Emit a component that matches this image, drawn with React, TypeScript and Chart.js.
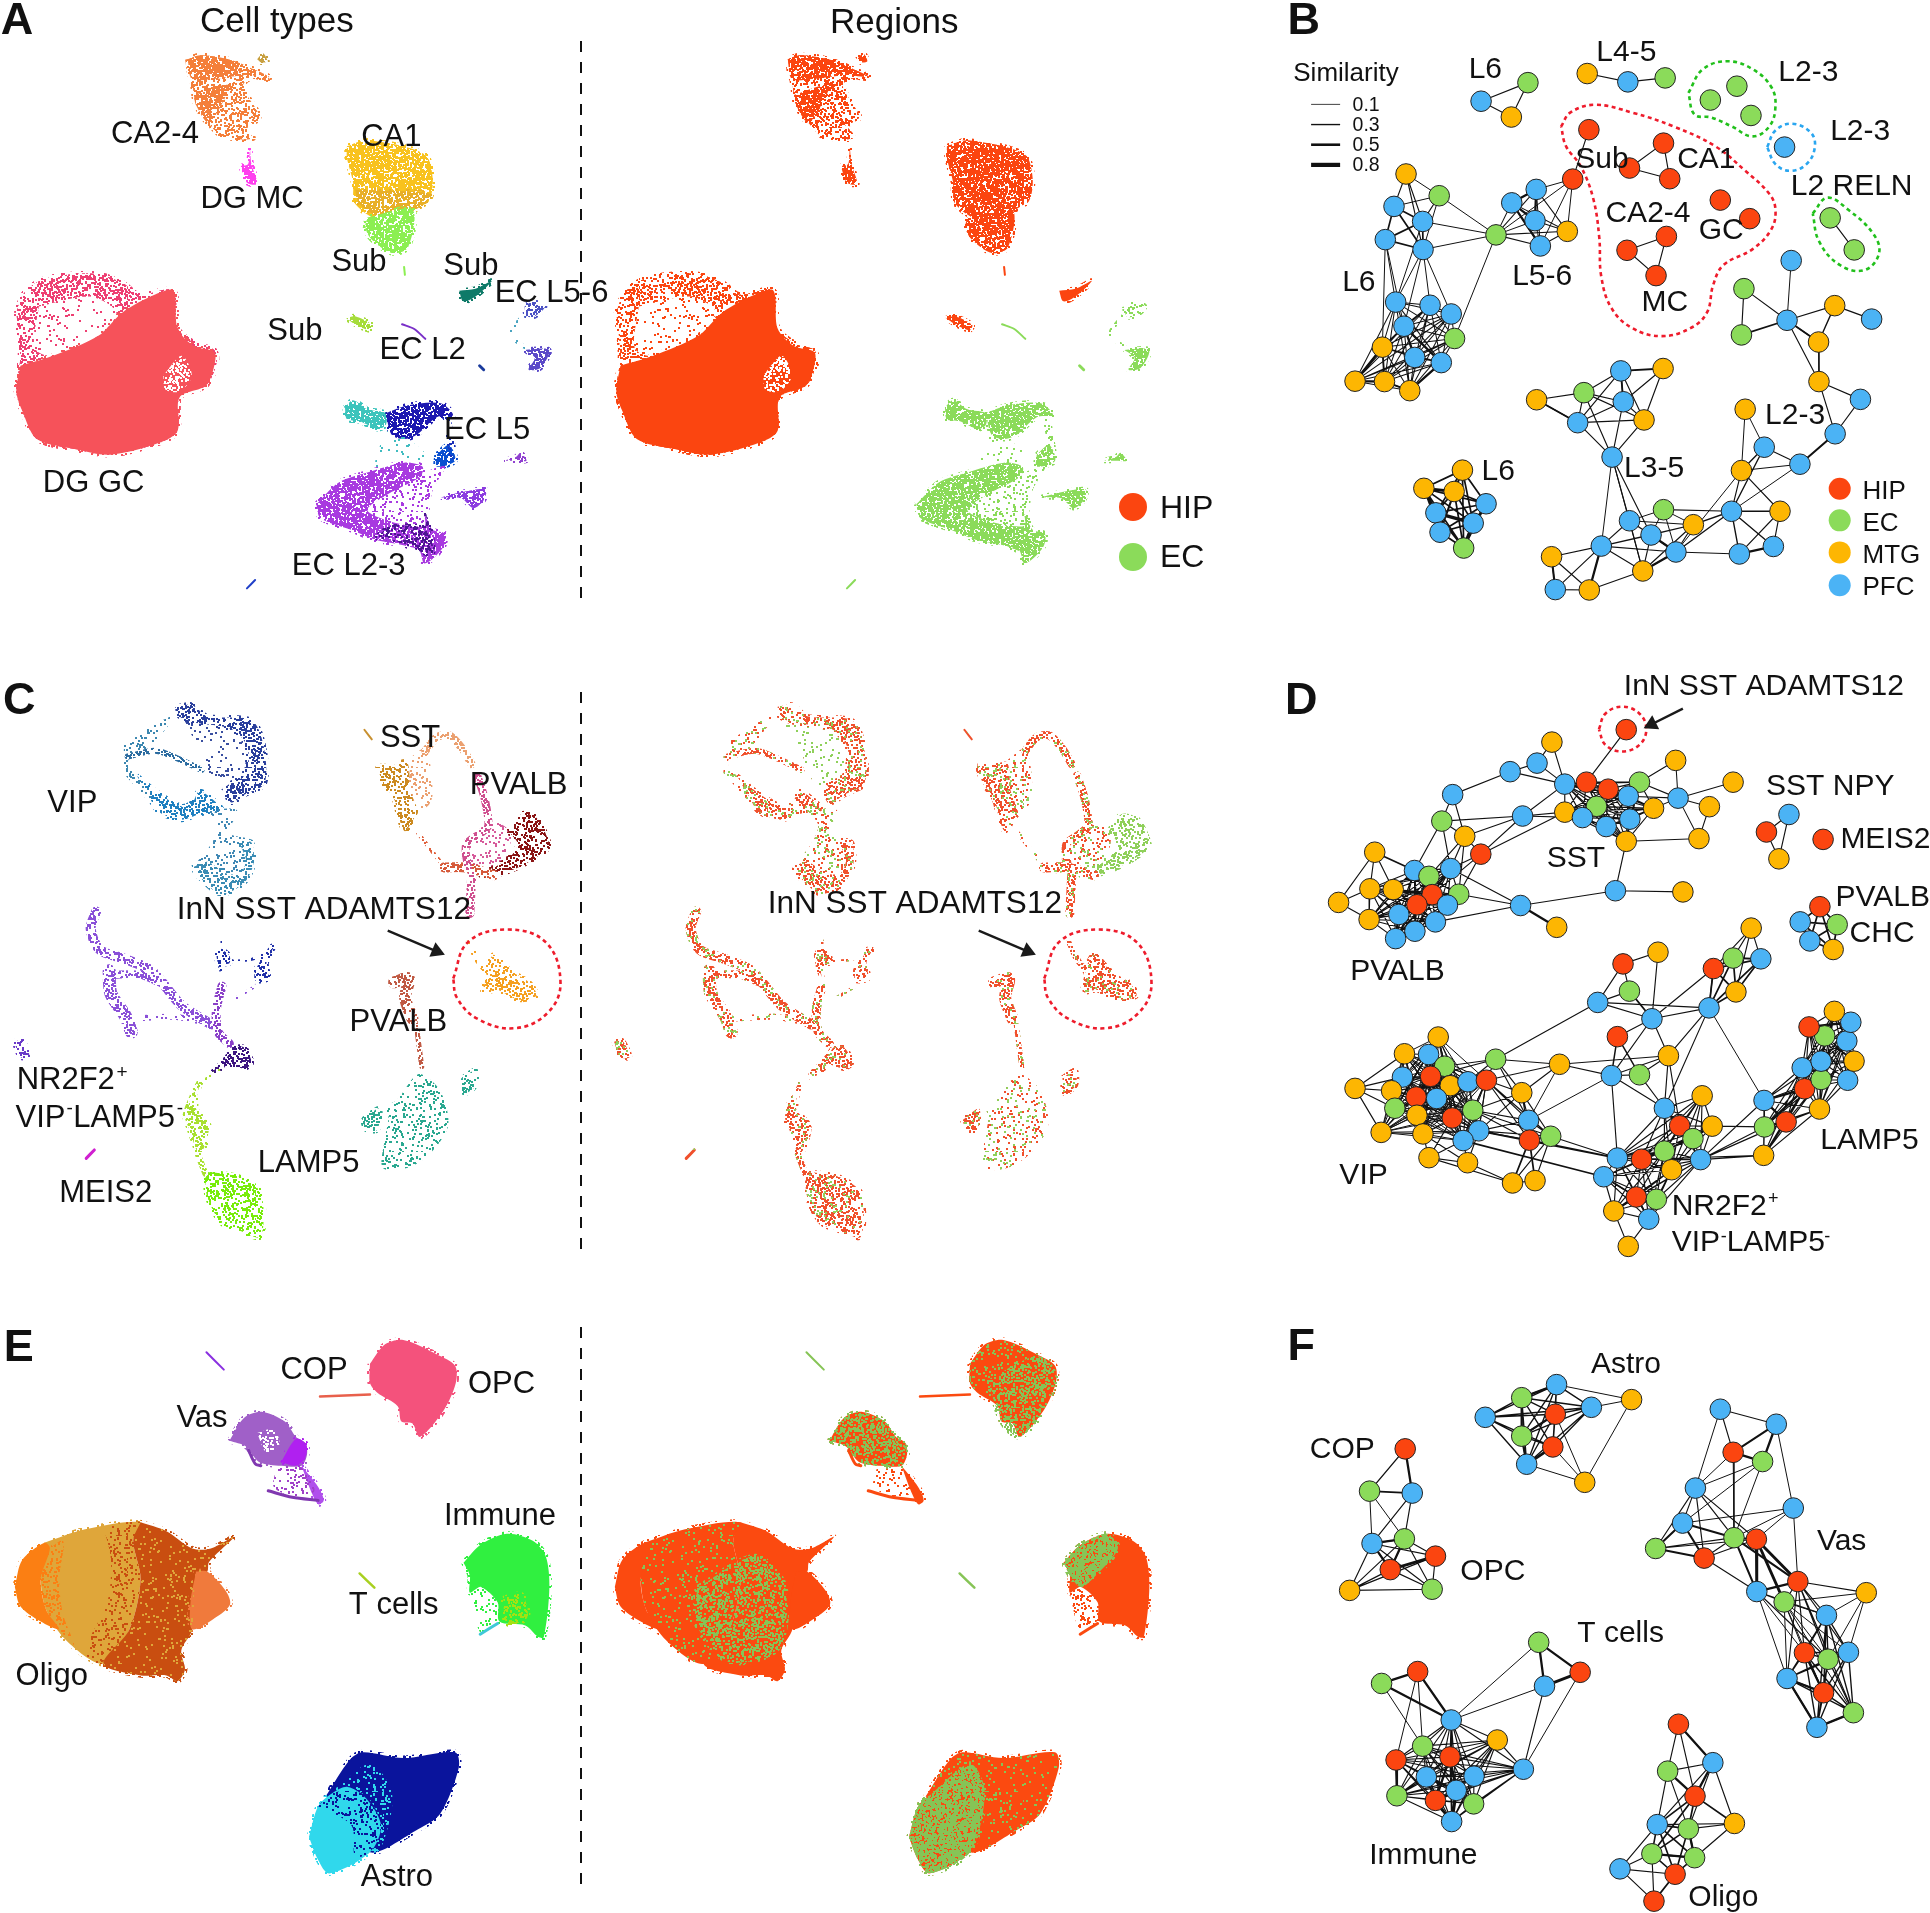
import React, { useEffect, useRef } from "react";
import { Chart, registerables } from "chart.js";
Chart.register(...registerables);

// ---- crops of the reference in which the values below were read: origin and magnification
type Crop = { ox: number; oy: number; kx: number; ky: number };
const cropA: Crop = { ox: 0, oy: 0, kx: 2.45, ky: 2.529 };
const cropB: Crop = { ox: 1280, oy: 0, kx: 2.412, ky: 2.529 };
const cropD: Crop = { ox: 1300, oy: 660, kx: 2.489, ky: 2.57 };
const cropF: Crop = { ox: 1280, oy: 1310, kx: 2.412, ky: 2.6 };
const cropC: Crop = { ox: 0, oy: 680, kx: 2.703, ky: 2.613 };
const cropE: Crop = { ox: 0, oy: 1310, kx: 2.703, ky: 2.6 };
const cropFull: Crop = { ox: 0, oy: 0, kx: 1, ky: 1 };
const REGION_SHIFT = 600;

const REGION_COLORS: Record<string, string> = { H: "#fb4510", E: "#8bdb5a", M: "#fdb602", P: "#4bb3f5" };

// ---- panel A, cell-type clusters (outlines, flat x,y lists)
const dgGcAll = [40,790, 60,740, 110,705, 230,692, 300,715, 340,745, 425,735, 435,830, 480,870, 525,885, 530,920, 505,975, 440,1005, 435,1090, 390,1120, 270,1150, 180,1135, 90,1110, 55,1040, 40,990, 50,900, 40,790];
const dgGcHole = [95,775, 220,750, 285,790, 240,850, 130,900, 85,880, 95,775];
const dgGcMain = [50,925, 130,900, 240,850, 300,790, 380,745, 425,735, 435,830, 475,875, 525,890, 525,925, 505,975, 440,1005, 435,1090, 390,1120, 270,1150, 180,1135, 90,1110, 55,1040, 40,990, 50,925];
const dgGcHole2 = [400,950, 445,900, 470,950, 440,990, 405,985, 400,950];
const ca24 = [460,150, 490,140, 560,150, 610,170, 660,195, 655,205, 610,200, 595,220, 635,290, 630,305, 600,320, 620,350, 545,345, 510,310, 480,265, 470,200, 460,150];
const ca24Band = [460,150, 490,140, 560,150, 610,170, 660,195, 600,190, 520,200, 470,200, 460,150];
const ca24Low = [475,240, 560,215, 540,270, 510,310, 480,265, 475,240];
const caTan = [630,150, 645,135, 655,155, 640,158, 630,150];
const dgMc = [590,420, 608,415, 612,375, 616,415, 630,465, 605,462, 590,420];
const ca1Top = [850,370, 900,355, 1040,390, 1060,450, 1050,510, 1010,525, 940,560, 870,515, 865,460, 850,400, 850,370];
const ca1Low = [870,480, 1055,490, 1040,515, 960,560, 930,550, 880,515, 870,480];
const subA = [900,550, 1010,530, 1000,625, 960,640, 910,605, 895,575, 900,550];
const subTail = [990,675, 992,695];
const subTeal = [1125,735, 1165,730, 1205,710, 1165,750, 1135,762, 1125,735];
const ecTop = [1285,775, 1305,763, 1335,775, 1310,800, 1290,800, 1285,775];
const ecLink = [1280,800, 1250,845, 1295,885];
const ecLow = [1285,885, 1345,885, 1325,930, 1295,935, 1310,905, 1285,885];
const ecDot = [1175,925, 1185,935];
const subLime = [848,805, 870,800, 912,822, 905,835, 870,820, 848,805];
const ecL2 = [985,820, 1015,832, 1042,857];
const tealC = [845,1030, 865,1012, 900,1035, 945,1045, 945,1075, 925,1085, 880,1065, 850,1060, 845,1030];
const blueArc = [945,1045, 1000,1025, 1080,1020, 1110,1050, 1070,1055, 1020,1100, 990,1110, 960,1100, 945,1045];
const blueLink = [1095,1060, 1110,1150];
const blueLow = [1070,1150, 1100,1125, 1115,1165, 1070,1180, 1070,1150];
const ecL23Main = [775,1275, 830,1220, 900,1195, 990,1170, 1035,1180, 1030,1205, 950,1250, 900,1290, 960,1320, 1040,1330, 1040,1300, 1060,1340, 1090,1350, 1085,1385, 1040,1425, 1025,1390, 920,1365, 860,1340, 785,1310, 775,1275];
const ecL23Dark = [920,1360, 960,1330, 1040,1330, 1045,1300, 1055,1345, 1060,1400, 1030,1395, 950,1360, 920,1360];
const ecL23Sparse = [950,1250, 1030,1200, 1090,1180, 1060,1240, 1040,1330, 960,1320, 900,1290, 950,1250];
const ecScatter = [920,1160, 950,1090, 1000,1110, 1060,1170, 990,1170, 920,1190, 920,1160];
const ecRight = [1080,1258, 1130,1245, 1190,1238, 1185,1265, 1160,1285, 1130,1260, 1080,1258];
const ecSmall = [1235,1165, 1265,1155, 1275,1145, 1290,1165, 1265,1165, 1235,1165];
const ecLine = [605,1488, 625,1467];

// ---- panel C
const vipDark = [480,70, 520,65, 560,95, 680,105, 712,170, 715,270, 660,300, 625,320, 610,280, 660,250, 670,180, 630,130, 520,110, 485,95, 480,70];
const vipInner = [485,95, 630,130, 670,200, 640,300, 580,270, 540,180, 485,95];
const vipLeft = [335,170, 420,115, 470,95, 430,150, 400,180, 350,200, 345,240, 335,240, 335,170];
const vipRidge = [345,200, 420,185, 480,205, 545,235];
const vipLow = [370,250, 420,290, 490,330, 520,320, 540,290, 600,340, 540,350, 490,365, 430,345, 400,300, 370,250];
const vipRing = [345,240, 400,300];
const vipNeck = [560,340, 640,340, 620,400, 680,420, 685,480, 660,530, 600,560, 560,540, 520,500, 570,430, 590,380, 560,340];
const vipBottom = [520,490, 560,475, 610,505, 650,505, 665,470, 650,425, 680,425, 685,480, 660,530, 600,560, 560,535, 520,490];
const sstTick = [985,130, 1005,155];
const sstLeft = [1020,225, 1055,225, 1100,215, 1110,290, 1130,345, 1120,360, 1095,395, 1080,365, 1065,310, 1035,270, 1020,225];
const sstLight = [1100,210, 1150,180, 1170,290, 1160,325, 1130,340, 1110,290, 1100,210];
const sstTop = [1150,185, 1180,150, 1215,145, 1250,180, 1275,220];
const sstCurve = [1130,400, 1170,450, 1210,495, 1240,500];
const redCross = [1200,490, 1260,490, 1335,510];
const pinkUp = [1290,250, 1310,310, 1320,380, 1300,400, 1260,430, 1265,490];
const pinkArea = [1260,420, 1330,370, 1380,400, 1360,480, 1300,510, 1250,480, 1260,420];
const pinkDown = [1275,510, 1270,610];
const pvDark = [1375,395, 1410,350, 1450,360, 1485,430, 1470,450, 1400,490, 1340,510, 1300,510, 1370,470, 1400,430, 1375,395];
const innOrange = [1265,680, 1280,710, 1310,750, 1335,718, 1380,760, 1430,790, 1450,825, 1400,835, 1345,810, 1305,815, 1315,770, 1285,725, 1265,680];
const purpleA = [260,605, 245,650, 270,705, 340,730, 410,760, 490,850, 570,900];
const purpleB = [295,760, 300,820, 340,880, 355,920];
const purpleC = [300,770, 380,770, 430,790];
const purpleD = [350,885, 470,880, 530,890];
const blueTopA = [595,700, 620,720, 620,740, 590,745, 600,775, 585,720, 595,700];
const blueTopB = [725,700, 740,695, 720,740, 725,780, 690,785, 690,760, 725,700];
const blueThinA = [620,735, 680,730, 720,710];
const blueThinB = [600,680, 600,770];
const centerPurple = [600,800, 585,860, 590,920, 620,950];
const centerThin = [690,800, 640,830];
const darkPurple = [630,960, 660,960, 680,1000, 660,1015, 615,1005, 600,1020, 570,1030, 610,990, 630,960];
const limeArea = [520,1085, 540,1050, 530,1120, 565,1165, 540,1240, 510,1170, 500,1140, 520,1085];
const limeLink = [590,1020, 535,1060];
const limeLow = [535,1240, 555,1290];
const greenLow = [555,1285, 600,1290, 650,1300, 705,1340, 705,1455, 650,1440, 600,1420, 560,1350, 555,1285];
const nrSmall = [38,945, 60,942, 80,985, 55,985, 38,945];
const meis = [233,1250, 255,1228];
const brownTop = [1065,790, 1105,780, 1095,830, 1115,885];
const brownLow = [1125,900, 1140,1010];
const lampMain = [1035,1110, 1070,1100, 1130,1030, 1180,1060, 1205,1110, 1210,1170, 1160,1240, 1100,1275, 1035,1275, 1040,1200, 1050,1140, 1035,1110];
const lampLeft = [980,1150, 1025,1120, 1020,1175, 990,1175, 980,1150];
const lampRight = [1250,1040, 1285,1020, 1285,1060, 1255,1080, 1250,1040];

// ---- panel E
const vasTick = [558,110, 605,155];
const opc = [1000,140, 1040,90, 1090,78, 1180,115, 1230,145, 1232,190, 1200,260, 1135,330, 1115,295, 1085,290, 1075,250, 1020,215, 1000,190, 1000,140];
const opcGreen = [1050,180, 1180,120, 1232,160, 1200,260, 1135,330, 1085,290, 1050,180];
const opcTail = [865,225, 1000,220];
const vasUpper = [620,340, 660,280, 710,265, 770,290, 800,330, 825,345, 830,375, 815,405, 760,405, 700,395, 665,355, 620,340];
const vasHole = [695,320, 740,310, 755,350, 720,370, 695,320];
const vasRight = [760,395, 800,335, 828,350, 825,385, 800,405, 760,395];
const vasLower = [815,405, 860,460, 875,495, 860,505, 840,470, 815,405];
const vasSpots = [750,405, 815,410, 850,470, 800,485, 740,460, 750,405];
const vasBottom = [725,470, 790,487, 860,495];
const vasSide = [672,365, 690,400, 705,405];
const oligoOrange = [40,720, 60,650, 120,605, 135,620, 110,700, 125,780, 160,830, 110,810, 55,770, 40,720];
const oligoTan = [120,605, 230,570, 380,552, 360,600, 380,700, 350,830, 280,920, 180,860, 125,780, 110,700, 120,605];
const oligoDark = [380,552, 450,575, 520,620, 570,620, 632,590, 565,655, 560,680, 530,690, 520,830, 490,885, 500,935, 480,965, 450,950, 380,950, 280,920, 350,830, 380,700, 360,600, 380,552];
const oligoLight = [530,680, 560,680, 610,730, 622,765, 590,795, 520,830, 515,760, 530,680];
const oligoMix = [280,562, 380,552, 360,600, 380,700, 350,830, 280,920, 230,890, 290,760, 300,650, 280,562];
const oligoEdge = [110,640, 170,600, 160,700, 170,790, 200,870, 160,830, 125,780, 110,700, 110,640];
const immune = [1253,657, 1300,610, 1370,582, 1440,600, 1475,640, 1485,720, 1470,850, 1455,850, 1420,820, 1350,810, 1345,760, 1300,720, 1270,735, 1270,690, 1253,657];
const immuneSparse = [1270,735, 1300,720, 1345,760, 1345,805, 1300,840, 1270,735];
const immuneYellow = [1360,750, 1410,740, 1425,800, 1370,815, 1360,750];
const immuneCyan = [1298,843, 1345,815];
const tCells = [972,685, 1012,722];
const astroDark = [880,1265, 945,1170, 980,1150, 1090,1165, 1230,1150, 1240,1190, 1190,1310, 1130,1350, 1000,1410, 960,1300, 880,1265];
const astroCyan = [835,1370, 860,1290, 900,1255, 940,1240, 990,1270, 1030,1340, 1000,1410, 890,1465, 860,1430, 835,1370];
const astroMix = [900,1255, 1000,1180, 1060,1260, 1030,1400, 1000,1410, 960,1300, 900,1255];
const astroMixDark = [860,1290, 900,1255, 985,1260, 1030,1340, 1000,1410, 960,1420, 950,1340, 860,1290];
const astroGreen = [835,1370, 860,1290, 900,1255, 1000,1180, 1040,1250, 1000,1410, 890,1465, 860,1430, 835,1370];
const oligoGreen = [262,722, 420,640, 500,720, 480,880, 350,915, 262,820, 262,722];
const immuneGreen = [1253,657, 1300,610, 1370,582, 1400,620, 1340,690, 1300,720, 1270,690, 1253,657];

// ---- dotted and dashed guides
const redLoopB = [678,320, 700,285, 760,265, 850,285, 950,320, 1050,370, 1120,430, 1180,490, 1195,530, 1185,580, 1140,630, 1070,670, 1045,720, 1030,790, 990,830, 920,850, 850,830, 800,780, 775,700, 770,600, 755,500, 725,420, 690,370, 678,320];
const greenLoopB1 = [985,235, 1020,175, 1080,155, 1140,175, 1185,220, 1195,270, 1180,320, 1140,345, 1090,320, 1040,297, 1000,290, 985,235];
const blueLoopB = [1175,372, 1195,330, 1235,313, 1280,335, 1290,372, 1270,415, 1230,432, 1195,415, 1175,372];
const greenLoopB2 = [1285,540, 1320,500, 1370,530, 1430,590, 1445,640, 1410,683, 1350,670, 1300,610, 1285,540];
const redRingD = [744,178, 760,138, 802,120, 845,138, 862,178, 845,218, 802,235, 760,218, 744,178];
const redRingC = [1225,780, 1265,685, 1370,652, 1475,685, 1515,790, 1480,870, 1390,910, 1290,885, 1235,830, 1225,780];
const arrowC = [1048,655, 1195,715];
const arrowD = [953,125, 862,172];
const dashA = [581, 41, 581, 602];
const dashC = [581, 692, 581, 1253];
const dashE = [581, 1327, 581, 1888];

// ---- network nodes, panel B
type N = [string, number, number];
const bSmall1: N[] = [["P",485,256],["E",598,209],["M",558,296]];
const bSmall2: N[] = [["M",741,186],["P",839,207],["E",929,197]];
const bSingles: N[] = [["E",1038,253],["E",1102,218],["E",1136,292],["P",1217,372],["H",1062,506],["H",1133,553]];
const bReln: N[] = [["E",1327,551],["E",1385,632]];
const bSub: N[] = [["H",745,328],["H",706,453]];
const bCa1: N[] = [["H",925,362],["H",843,425],["H",940,452]];
const bCa2: N[] = [["H",932,598],["H",837,633],["H",907,697]];
const bL6: N[] = [["M",304,440],["E",384,495],["P",275,522],["P",344,560],["P",254,606],["P",345,631],["P",279,764],["P",362,772],["P",413,794],["P",299,825],["E",421,856],["M",247,878],["P",325,904],["P",389,917],["M",181,964],["M",252,965],["M",313,988]];
const bL56: N[] = [["E",521,594],["P",618,479],["P",559,513],["P",615,558],["M",693,585],["P",628,622]];
const bRight: N[] = [["P",1233,659],["E",1119,730],["E",1113,847],["P",1223,810],["M",1338,773],["P",1427,807],["M",1299,865],["M",1300,965],["P",1400,1010],["P",1339,1097],["M",1122,1035],["P",1168,1131],["P",1254,1174],["M",1113,1190],["P",1089,1293],["M",1206,1293],["P",1190,1382],["P",1108,1401],["M",997,1327],["E",925,1289],["P",843,1317],["P",895,1353],["P",955,1396],["M",875,1444],["P",775,1381],["M",655,1408],["P",664,1491],["M",746,1492],["P",801,1156]];
const bL35: N[] = [["P",822,938],["M",924,932],["E",733,993],["P",828,1016],["M",619,1011],["P",718,1069],["M",878,1062]];
const bL6Low: N[] = [["M",440,1189],["M",347,1235],["M",420,1243],["P",497,1274],["P",376,1297],["P",466,1323],["P",386,1346],["E",443,1386]];

const bEdges = [
  "1 s0 > s1 s2","1 s1 > s2","1 t0 > t1","1 t1 > t2","1 r0 > r1","1 u1 > u0 u2","1 u0 > u2","1 v0 > v1 v2","1 v1 > v2","1 w0 > w1",
  "1 a0 > a2 a3 a5","0.8 a0 > a1","0.8 a1 > a2 a5","1.5 * a2 a3 a4 a5","1 a1 > a3","0.8 a3 > b0","0.8 a5 > b0","0.8 a1 > b0","0.8 a10 > b0",
  "0.8 a4 > a6 a9 a11","0.8 a5 > a6 a7 a8 a9","0.7 a3 > a6","0.9 * a6 a7 a8 a9 a10 a11 a12 a13 a14 a15 a16","2 a14 > a11 a15","2 a9 > a12 a13","1.6 a15 > a16 a11","2 a16 > a13",
  "0.9 * b0 b1 b2 b3 b4 b5","2 b1 > b2 b3","2 b2 > b3 b5","0.8 r1 > b1 b4 b5 b0",
  "0.8 c0 > c3","1 c1 > c2 c3","1.5 c2 > c3","1 c3 > c4 c6 c7","1.5 c3 > c6","1.2 c4 > c5 c6","0.7 c6 > c7","1 c7 > c8 c9","1 c8 > c9","1.8 c9 > c12","1 c12 > c11 c13","0.8 c10 > c11 c13","1.2 c11 > c13 c14","1 c13 > c14 c15","0.8 c12 > c14","1.2 c14 > c15 c16 c17 c18 c22","1 c15 > c16 c17","2 c16 > c17","1 c14 > c19","0.8 c19 > c20 c21 c22 c18","1 * c20 c21 c22 c23 c24 c18","2 c22 > c21 c23","1 c24 > c25 c26 c23","0.7 c24 > c27","1 c25 > c26 c27","1.8 c25 > c26","2 c24 > c27","1 c27 > c23 c26","1 c28 > c20 c21","0.8 c28 > c23 c24","1 c22 > c17","0.8 c22 > c13",
  "1 * d0 d2 d3 d5 d6","1.6 d0 > d1 d3","1 d1 > d3 d6","1 d4 > d2 d5","1.6 d4 > d5","1 c28 > d3 d5 d6 d2",
  "1.5 * e0 e1 e2 e3 e4 e5 e6 e7","3 e4 > e5 e6","2.5 e1 > e2 e4","3 e5 > e7",
];

// ---- network nodes, panel D
const dTop: N[] = [["H",812,179]];
const dSst: N[] = [["M",627,211],["P",590,265],["P",523,287],["P",380,346],["E",353,414],["M",410,453],["H",450,499],["P",554,401],["P",659,319],["H",713,314],["H",767,332],["E",845,314],["M",935,258],["M",1078,314],["P",941,355],["M",1019,377],["M",993,459],["P",817,350],["M",880,381],["M",659,391],["E",738,376],["P",703,405],["P",762,428],["P",821,409],["M",812,466]];
const dPv: N[] = [["M",186,494],["M",96,623],["M",174,588],["M",232,590],["M",172,667],["P",285,541],["P",375,536],["E",321,556],["E",395,602],["H",329,603],["H",291,629],["P",367,630],["P",246,654],["P",337,673],["P",286,697],["P",238,716]];
const dMid: N[] = [["P",549,631],["M",639,687],["P",785,593],["M",953,596]];
const dNpy: N[] = [["P",1217,397],["H",1161,442],["M",1192,511]];
const dMeis: N[] = [["H",1302,461]];
const dChc: N[] = [["H",1294,634],["P",1245,673],["E",1337,680],["P",1269,722],["M",1327,744]];
const dUpper: N[] = [["H",804,781],["M",891,751],["E",820,851],["P",741,880],["P",876,922],["H",1029,793],["E",1078,766],["M",1123,689],["P",1147,768],["M",1085,853],["P",1018,894],["H",790,968],["M",917,1017],["E",845,1066],["P",775,1068],["M",646,1039],["E",487,1026]];
const dVip: N[] = [["M",344,969],["M",260,1012],["P",320,1014],["E",360,1044],["P",255,1072],["H",325,1070],["M",374,1094],["P",418,1084],["H",464,1080],["M",137,1101],["M",228,1107],["H",289,1123],["P",340,1127],["E",236,1152],["M",291,1170],["H",379,1177],["E",430,1157],["P",445,1210],["M",202,1214],["M",306,1218],["P",406,1235],["M",321,1279],["M",417,1292],["M",529,1344],["M",585,1338],["M",552,1112],["P",569,1183],["H",571,1234],["E",624,1224]];
const dNr: N[] = [["P",907,1152],["M",1001,1120],["H",945,1197],["M",1026,1198],["E",978,1230],["E",907,1262],["P",790,1280],["H",850,1283],["M",925,1310],["P",997,1284],["P",756,1328],["H",837,1380],["E",887,1386],["M",781,1416],["P",868,1437],["M",817,1507]];
const dLamp: N[] = [["P",1155,1132],["E",1156,1200],["H",1210,1187],["M",1154,1273],["M",1293,1154],["H",1256,1102],["E",1297,1078],["P",1363,1080],["P",1250,1048],["P",1297,1031],["M",1379,1031],["P",1361,979],["E",1306,966],["H",1267,943],["P",1371,931],["M",1330,903]];

const dEdges = [
  "1 t0 > f9",
  "1 f0 > f1 f8","1 f1 > f2 f8","1 f2 > f8","1 f3 > f2 f4 f5","1 f4 > f5 f7","1 f5 > f6 f7","1 f6 > f7 f19","1 f7 > f8 f19 f21",
  "1 * f8 f9 f10 f11 f17 f18 f19 f20 f21 f22 f23 f24","1 f11 > f12 f14 f17","0.9 f14 > f12 f15 f16 f13 f18 f17","1 f15 > f16","0.8 f16 > f24","1 f24 > h2",
  "1 f4 > g6 g5","1 f5 > g6 g8 g7","1 f6 > g6 g8 g9",
  "1 g0 > g1 g2 g3","1.5 g0 > g5","1 g1 > g2 g4","1 g2 > g3 g4","1 * g2 g3 g4 g5 g6 g7 g8 g9 g10 g11 g12 g13 g14 g15","2 g12 > g10 g14 g15","1 g8 > h0","1 g13 > h0","1 g6 > h0","1 h0 > h2","2 h0 > h1","1 h2 > h3",
  "1 n0 > n1 n2","1 n1 > n2","1.5 * c0 c1 c2 c3 c4",
  "1 i0 > i1 i2 i3","1 i1 > i4","1 i2 > i3","1.5 i2 > i4","1 i3 > i4 i10","1 i4 > i10 i11 i12 i14","1 i5 > i6 i10 i4","1.5 * i5 i6 i8 i9 i10","1 i6 > i7 i8","1 i7 > i8 i9 i5","1.3 i11 > i14 i13","1 i12 > i13 i14 i15","1 i14 > i13 i15","1 i10 > i12 k0","0.8 i10 > l0","1 i14 > k0 k6","1 i13 > k0","1 i12 > k0 k2","1 i3 > i16","1 i16 > i15","1 i15 > i14","1 i16 > j8 j7 j5 j3 j25 j26","1 i15 > j8 j25","0.8 j26 > i14 i15",
  "0.8 * j0 j1 j2 j3 j4 j5 j6 j7 j8 j10 j11 j12 j13 j14 j15 j16 j17 j18 j19 j20","1 j9 > j10 j13 j18 j4 j1","1.8 j5 > j3 j11 j12","1.8 j15 > j16 j12",
  "1 * j25 j26 j27 j28 j8 j16 j17","1.5 j27 > j23 j24","1 j23 > j22 j24 j28","1 j24 > j28","1 j22 > j19 j20 j17","1 j21 > j19 j20 j15 j22 j23","1 j28 > k6","1.5 j27 > k6","1.5 j20 > k10","1.5 j17 > k6",
  "1 * k0 k1 k2 k3 k4 k5 k7 k8 k9 k6","1 * k6 k7 k10 k11 k12 k13 k14 k5 k8 k9","1 k13 > k15","1 k14 > k15","1.5 k11 > k13 k14 k10","1 k9 > l0 l1 l2 l3","1 k3 > l1","1 k7 > l3",
  "1 * l0 l1 l2 l3 l4 l5 l6 l8 l9","1 * l4 l5 l6 l7 l8 l9 l10 l11 l12 l13 l14 l15","2 l0 > l5 l2","2 l1 > l2 l5","2 l13 > l12 l14",
];

// ---- network nodes, panel F
const fAstro: N[] = [["P",667,194],["E",583,228],["P",751,253],["M",848,233],["H",664,271],["P",495,279],["E",583,328],["H",658,356],["P",595,401],["M",735,448]];
const fCop: N[] = [["H",302,361],["E",216,471],["P",319,476],["P",222,607],["E",300,595],["H",375,640],["H",266,675],["M",168,729],["E",367,726]];
const fVas: N[] = [["P",1062,258],["P",1197,297],["H",1093,370],["E",1164,394],["P",1002,463],["P",1238,515],["P",971,554],["E",1095,592],["H",1149,596],["E",906,620],["H",1023,645],["H",1249,706],["P",1150,732],["E",1216,759],["M",1414,735],["P",1318,794],["H",1265,891],["E",1322,908],["P",1371,890],["P",1223,958],["H",1311,995],["E",1383,1047],["P",1295,1085]];
const fImmune: N[] = [["E",624,864],["H",724,942],["P",638,978],["E",245,971],["H",332,940],["P",413,1066],["M",524,1118],["E",344,1134],["H",280,1170],["H",410,1162],["P",587,1194],["P",353,1214],["P",468,1212],["P",425,1249],["E",282,1263],["H",375,1275],["E",467,1284],["P",414,1330]];
const fOligo: N[] = [["H",961,1077],["P",1044,1177],["E",935,1199],["H",1001,1264],["M",1096,1335],["P",910,1338],["E",985,1349],["E",897,1414],["E",1000,1424],["H",953,1467],["P",820,1453],["H",902,1537]];

const fEdges = [
  "1.2 * s0 s1 s2 s4 s5 s6 s7 s8","2 s1 > s6 s0","2 s6 > s8 s4","2.5 s8 > s7","0.7 s3 > s0 s2 s9","0.8 s9 > s7 s8 s4",
  "1.2 o0 > o1","2 o0 > o2","1.5 o1 > o2","0.8 o1 > o3 o4","1 o2 > o3 o4","1 * o3 o4 o5 o6 o7 o8","2 o3 > o4 o6","2 o4 > o6","2.5 o5 > o6",
  "1 v0 > v1 v2","0.8 v0 > v4","1.8 v1 > v2","2 v1 > v3","0.7 v1 > v5","2 v2 > v3","0.7 v2 > v4 v7","0.7 v3 > v4 v6 v7","1 v4 > v6 v7 v8 v9 v10","0.7 v5 > v6 v7 v8 v11","1.8 v6 > v9 v10 v7","1.8 v9 > v10","1 v9 > v7 v8","1 v10 > v7 v8 v12","1.8 v7 > v12 v8 v11","2.5 v8 > v12 v11 v13","2 v11 > v12","1 v11 > v13 v14 v15 v16 v17 v18 v19 v21","0.7 v13 > v14 v15 v16 v17 v18 v19 v20 v21","1 v12 > v13 v15 v17","0.7 v14 > v15 v17 v18","1.2 * v15 v16 v17 v18 v19 v20 v21 v22","2 v19 > v20 v22","2 v16 > v20","0.7 v12 > v19 v16","2 v21 > v22",
  "0.7 m0 > m5","2 m0 > m1","2.5 m1 > m2","2 m0 > m2","1 m2 > m10","0.7 m2 > m5","0.8 m1 > m10","2 m3 > m4","2 m3 > m5","0.7 m3 > m7","0.7 m4 > m8 m7","2 m4 > m5","1 * m5 m6 m7 m8 m9 m10 m11 m12 m13 m14 m15 m16 m17","2 m8 > m14","2 m11 > m15 m13","2 m9 > m13 m15","3 m13 > m17","2 m17 > m15",
  "1 q0 > q2 q3","2 q0 > q1","1 q2 > q1","2 q3 > q1","1 q2 > q5 q6","2 q2 > q3","1 q1 > q4 q5 q6","1.5 q3 > q4 q5 q6 q7","1 q4 > q5 q6 q8","1.4 * q5 q6 q7 q8 q9","1 q10 > q5 q7 q9 q11","1.5 q9 > q11","1 q7 > q11","2 q7 > q8","2 q6 > q8",
];

// ---- similarity legend and region legends
const simTicks = ["0.1", "0.3", "0.5", "0.8"];
const simWidths = [0.8, 1.4, 2.6, 4.2];
const simRows = [264, 315, 366, 417];
const regionsB = ["H", "E", "M", "P"];
const regionNamesB = ["HIP", "EC", "MTG", "PFC"];
const regionRowsB = [1236, 1316, 1397, 1480];

// ---- texts: text, x, baseline, size, (bold)
type L = [string, number, number, number, boolean?];
const labelsA: L[] = [["A",2,85,45,true],["Cell types",490,80,35],["CA2-4",272,362,31],["DG MC",491,527,31],["CA1",885,370,31],["Sub",812,685,31],["Sub",1086,695,31],["EC L5-6",1212,763,31],["Sub",655,860,31],["EC L2",930,908,31],["EC L5",1088,1110,31],["DG GC",105,1245,31],["EC L2-3",715,1453,31]];
const labelsRegions: L[] = [["Regions",830,33,35],["HIP",1160,518,32],["EC",1160,567,32]];
const labelsB: L[] = [["B",18,85,45,true],["Similarity",32,205,26],["L6",455,197,30],["L4-5",763,155,30],["L2-3",1202,205,30],["L2-3",1327,355,30],["L2 RELN",1232,493,30],["Sub",712,424,30],["CA1",958,424,30],["CA2-4",785,562,30],["GC",1010,605,30],["MC",872,787,30],["L6",150,737,30],["L5-6",560,722,30],["L2-3",1170,1073,30],["L3-5",830,1207,30],["L6",486,1213,30]];
const labelsC: L[] = [["C",8,90,45,true],["VIP",128,345,31],["SST",1027,175,31],["PVALB",1270,297,31],["InN SST ADAMTS12",478,625,31.5],["PVALB",945,918,31],["NR2F2",45,1068,31],["+",315,1040,19],["VIP",42,1168,31],["-",180,1135,19],["LAMP5",198,1168,31],["-",478,1135,19],["MEIS2",160,1365,31],["LAMP5",697,1285,31]];
const labelsCRight: L[] = [["InN SST ADAMTS12",478,610,31.5]];
const labelsD: L[] = [["InN SST ADAMTS12",806,90,30],["SST NPY",1160,347,30],["MEIS2",1345,483,30],["PVALB",1333,632,30],["CHC",1368,725,30],["SST",614,533,30],["PVALB",125,823,30],["VIP",98,1347,30],["LAMP5",1295,1258,30],["NR2F2",925,1427,30],["+",1165,1397,18],["VIP",925,1520,30],["-",1047,1495,18],["LAMP5",1062,1520,30],["-",1305,1495,18]];
const labelsDLetter: L[] = [["D",1285,714,45,true]];
const labelsE: L[] = [["E",10,132,45,true],["COP",758,180,31],["OPC",1265,217,31],["Vas",477,303,31],["Immune",1200,558,31],["T cells",943,790,31],["Oligo",42,975,31],["Astro",975,1498,31]];
const labelsF: L[] = [["F",18,130,45,true],["Astro",750,165,30],["COP",72,385,30],["OPC",435,703,30],["Vas",1295,625,30],["T cells",717,862,30],["Immune",215,1440,30],["Oligo",985,1550,30]];

// ---- stipple tile (scatter-like texture for the clusters)
const patternCache = new Map<string, CanvasPattern | string>();
function stipple(color: string, density: number): CanvasPattern | string {
  if (!density) return color;
  const key = color + density;
  if (patternCache.has(key)) return patternCache.get(key)!;
  const t = document.createElement("canvas");
  t.width = 128; t.height = 128;
  const c = t.getContext("2d")!;
  c.fillStyle = color;
  const n = [0, 400, 1000, 2600, 7000][density];
  const hash = (v: number) => { const s = Math.sin(v) * 43758.5453; return s - Math.floor(s); };
  for (let i = 1; i <= n; i++) {
    c.fillRect(Math.floor(hash(i * 12.9898) * 128), Math.floor(hash(i * 78.233) * 128), 2, 2);
  }
  const p = document.createElement("canvas").getContext("2d")!.createPattern(t, "repeat")!;
  patternCache.set(key, p);
  return p;
}

const at = (crop: Crop, x: number, y: number, dx = 0) => ({ x: crop.ox + dx + x / crop.kx, y: crop.oy + y / crop.ky });
const toPts = (flat: number[], crop: Crop, dx = 0) => {
  const out: { x: number; y: number }[] = [];
  for (let i = 0; i < flat.length; i += 2) out.push(at(crop, flat[i], flat[i + 1], dx));
  return out;
};

function fillDs(flat: number[], crop: Crop, color: string, d: number, dx = 0, tension = 0.3) {
  const fuzzy = color !== "#ffffff" && (d === 0 || d >= 3);
  return { data: toPts(flat, crop, dx), showLine: true, fill: "shape", backgroundColor: stipple(color, d), borderWidth: fuzzy ? 5 : 0, borderColor: fuzzy ? stipple(color, 2) : "rgba(0,0,0,0)", pointRadius: 0, tension };
}
function bandDs(flat: number[], crop: Crop, color: string, d: number, w: number, dx = 0) {
  return { data: toPts(flat, crop, dx), showLine: true, fill: false, borderColor: stipple(color, d), borderWidth: w, pointRadius: 0, tension: 0.3, borderCapStyle: "round" };
}
function dotted(flat: number[], crop: Crop, color: string, dx = 0) {
  return { data: toPts(flat, crop, dx), showLine: true, fill: false, borderColor: color, borderWidth: 2.6, borderDash: [4, 3.5], pointRadius: 0, tension: 0.4 };
}
function dashedLine(flat: number[]) {
  return { data: [{ x: flat[0], y: flat[1] }, { x: flat[2], y: flat[3] }], showLine: true, fill: false, borderColor: "#111", borderWidth: 2, borderDash: [11, 10], pointRadius: 0 };
}
function arrow(flat: number[], crop: Crop, dx = 0) {
  const [a, b] = toPts(flat, crop, dx);
  const len = Math.hypot(b.x - a.x, b.y - a.y);
  const ux = (b.x - a.x) / len, uy = (b.y - a.y) / len;
  const tip = { x: b.x - ux * 6, y: b.y - uy * 6 };
  return [
    { data: [a, tip], showLine: true, fill: false, borderColor: "#1a1a1a", borderWidth: 2.4, pointRadius: 0 },
    { data: [tip], showLine: false, pointStyle: "triangle", rotation: (Math.atan2(ux, -uy) * 180) / Math.PI, pointRadius: 9, pointBackgroundColor: "#1a1a1a", pointBorderWidth: 0 },
  ];
}

function network(groups: Record<string, N[]>, edges: string[], crop: Crop) {
  const pos = (ref: string) => {
    const m = /^([a-z]+)(\d+)$/.exec(ref)!;
    const n = groups[m[1]][+m[2]];
    return at(crop, n[1], n[2]);
  };
  const byWidth = new Map<string, { x: number; y: number }[]>();
  const seg = (w: string, a: string, b: string) => {
    if (!byWidth.has(w)) byWidth.set(w, []);
    byWidth.get(w)!.push(pos(a), pos(b), { x: NaN, y: NaN });
  };
  for (const spec of edges) {
    const parts = spec.split(" ");
    const w = parts[0];
    if (parts[1] === "*") {
      const list = parts.slice(2);
      for (let i = 0; i < list.length; i++) for (let j = i + 1; j < list.length; j++) seg(w, list[i], list[j]);
    } else {
      for (const t of parts.slice(3)) seg(w, parts[1], t);
    }
  }
  const out: any[] = [];
  const widths = [...byWidth.keys()].sort((a, b) => +a - +b);
  for (const w of widths) {
    out.push({ data: byWidth.get(w), showLine: true, fill: false, spanGaps: false, borderColor: "#111", borderWidth: Math.max(1, +w * 1.15), pointRadius: 0 });
  }
  const all = Object.values(groups).flat();
  out.push({
    data: all.map((n) => at(crop, n[1], n[2])),
    showLine: false,
    pointRadius: 10.3,
    pointBackgroundColor: all.map((n) => REGION_COLORS[n[0]]),
    pointBorderColor: "#222",
    pointBorderWidth: 1,
  });
  return out;
}

function buildDatasets() {
  const ds: any[] = [];
  // A, cell types
  const H = REGION_COLORS.H, E = REGION_COLORS.E;
  const solidA: [number[], string, number, string][] = [
    [dgGcAll, "#ee3f72", 3, "H"], [dgGcAll, "#ee3f72", 3, "H"], [dgGcHole, "#ffffff", 4, "H"], [dgGcHole, "#ee3f72", 1, "H"], [dgGcMain, "#f6525a", 0, "H"], [dgGcHole2, "#ffffff", 3, "H"],
    [ca24, "#f47f3a", 3, "H"], [ca24Band, "#f47f3a", 4, "H"], [ca24Low, "#f47f3a", 4, "H"], [caTan, "#c8a040", 4, "H"], [dgMc, "#ff40ee", 4, "H"],
    [ca1Top, "#f8c21e", 4, "H"], [ca1Low, "#e8af28", 4, "H"], [subA, "#8cef52", 4, "H"], [subTeal, "#0e7a68", 0, "H"], [subLime, "#a6dc3c", 4, "H"],
    [ecTop, "#4c52c4", 3, "E"], [ecLow, "#5a48c8", 4, "E"], [tealC, "#3cc4bc", 4, "E"], [blueArc, "#1c18b0", 4, "E"], [blueLow, "#0a50d0", 4, "E"],
    [ecScatter, "#40bcc0", 1, "E"], [ecL23Sparse, "#a83ae0", 2, "E"], [ecL23Main, "#a83ae0", 4, "E"], [ecL23Dark, "#4c1690", 3, "E"], [ecRight, "#8c3ce0", 4, "E"], [ecSmall, "#9040d0", 4, "E"],
  ];
  const bandsA: [number[], string, number, number, string][] = [
    [subTail, "#8cef52", 0, 2, "H"], [ecLink, "#4aa4c0", 2, 4, "E"], [ecDot, "#1a3a9c", 0, 3, "E"], [ecL2, "#7a30c8", 0, 2, "E"], [blueLink, "#1c30b8", 2, 8, "E"], [ecLine, "#2040c8", 0, 2, "E"],
  ];
  for (const [p, c, d] of solidA) ds.push(fillDs(p, cropA, c, d));
  for (const [p, c, d, w] of bandsA) ds.push(bandDs(p, cropA, c, d, w));
  for (const [p, c, d, r] of solidA) {
    if (c === "#ffffff") ds.push(fillDs(p, cropA, c, d, REGION_SHIFT));
    else if (p === dgGcMain || p === dgGcAll || p === dgGcHole) ds.push(fillDs(p, cropA, H, p === dgGcMain ? 0 : p === dgGcHole ? 1 : 3, REGION_SHIFT));
    else ds.push(fillDs(p, cropA, r === "H" ? H : E, d, REGION_SHIFT));
  }
  for (const [p, , d, w, r] of bandsA) ds.push(bandDs(p, cropA, r === "H" ? H : E, d, w, REGION_SHIFT));

  // C, cell types and regions
  const fillsC: [number[], string, number][] = [
    [vipInner, "#3a4fa0", 1], [vipDark, "#2a3f9c", 3], [vipLeft, "#3c87b0", 2], [vipLow, "#1f80c0", 3], [vipNeck, "#4088b4", 2], [vipBottom, "#3a8cb4", 3],
    [sstLeft, "#cc8a20", 3], [sstLight, "#eba070", 2], [pinkArea, "#d65a9a", 2], [pvDark, "#8a1414", 3], [innOrange, "#f5a020", 3],
    [blueTopA, "#2030a8", 3], [blueTopB, "#2030a8", 3], [darkPurple, "#3c1480", 3], [limeArea, "#a8e030", 3], [greenLow, "#78ec0a", 3], [nrSmall, "#6a3ac8", 3],
    [lampMain, "#2aa890", 2], [lampLeft, "#2aa890", 3], [lampRight, "#2aa890", 3],
  ];
  const bandsC: [number[], string, number, number][] = [
    [vipRidge, "#2c6ca0", 3, 6], [vipRing, "#3c87b0", 2, 8], [sstTick, "#c89030", 0, 2], [sstTop, "#eba070", 3, 8], [sstCurve, "#e0603c", 2, 4], [redCross, "#d65a3a", 3, 10],
    [pinkUp, "#cf4f8f", 3, 8], [pinkDown, "#cf4f8f", 3, 9], [purpleA, "#8a50d8", 3, 10], [purpleB, "#8a50d8", 3, 13], [purpleC, "#8a50d8", 3, 8], [purpleD, "#8a50d8", 2, 6],
    [blueThinA, "#2030a8", 2, 3], [blueThinB, "#2030a8", 2, 3], [centerPurple, "#8a40c8", 3, 9], [centerThin, "#8a50d8", 2, 3], [limeLink, "#a8e030", 2, 4], [limeLow, "#a8e030", 3, 6],
    [meis, "#d020d0", 0, 3], [brownTop, "#c05a44", 3, 12], [brownLow, "#c05a44", 3, 5],
  ];
  for (const [p, c, d] of fillsC) ds.push(fillDs(p, cropC, c, d, 0, 0.3));
  for (const [p, c, d, w] of bandsC) ds.push(bandDs(p, cropC, c, d, w));
  const redC = "#f0502c", greenC = "#8fd05a";
  for (const [p, , d] of fillsC) {
    ds.push(fillDs(p, cropC, redC, p === pvDark ? 1 : d, REGION_SHIFT));
    ds.push(fillDs(p, cropC, greenC, p === pvDark ? 3 : 1, REGION_SHIFT));
  }
  for (const [p, , d, w] of bandsC) {
    ds.push(bandDs(p, cropC, redC, d, w, REGION_SHIFT));
    ds.push(bandDs(p, cropC, greenC, 1, w, REGION_SHIFT));
  }

  // E, cell types and regions
  const fillsE: [number[], string][] = [
    [opc, "#f4527c"], [vasUpper, "#a060c8"], [vasRight, "#b020f0"], [vasLower, "#b050ec"],
    [oligoTan, "#dfa63a"], [oligoDark, "#c94e10"], [oligoOrange, "#fb7f13"], [oligoLight, "#f07a3c"],
    [immune, "#30f040"], [astroDark, "#0a149c"], [astroCyan, "#30d8ec"],
  ];
  for (const [p, c] of fillsE) ds.push(fillDs(p, cropE, c, 0));
  ds.push(fillDs(vasHole, cropE, "#ffffff", 3));
  ds.push(fillDs(vasSpots, cropE, "#a040c8", 2));
  ds.push(fillDs(immuneSparse, cropE, "#30f040", 2));
  ds.push(fillDs(immuneYellow, cropE, "#a6e012", 3));
  ds.push(fillDs(oligoMix, cropE, "#c94e10", 2));
  ds.push(fillDs(oligoEdge, cropE, "#fb7f13", 2));
  ds.push(fillDs(oligoDark, cropE, "#dfa63a", 1));
  ds.push(fillDs(astroMix, cropE, "#30d8ec", 2));
  ds.push(fillDs(astroMixDark, cropE, "#0a149c", 2));
  const bandsE: [number[], string, number][] = [[vasTick, "#8a30e0", 2], [opcTail, "#e8604c", 2.5], [vasBottom, "#8038b0", 3], [vasSide, "#8038b0", 3], [immuneCyan, "#40c8d8", 3], [tCells, "#a8d020", 2.5]];
  for (const [p, c, w] of bandsE) ds.push(bandDs(p, cropE, c, 0, w));
  for (const [p] of fillsE) ds.push(fillDs(p, cropE, "#fb4a10", 0, REGION_SHIFT));
  ds.push(fillDs(vasHole, cropE, "#ffffff", 3, REGION_SHIFT));
  ds.push(fillDs(vasSpots, cropE, "#fb4a10", 2, REGION_SHIFT));
  ds.push(fillDs(immuneSparse, cropE, "#fb4a10", 2, REGION_SHIFT));
  ds.push(fillDs(oligoGreen, cropE, "#86c456", 3, REGION_SHIFT));
  ds.push(fillDs(oligoTan, cropE, "#86c456", 1, REGION_SHIFT));
  ds.push(fillDs(astroGreen, cropE, "#86c456", 4, REGION_SHIFT));
  ds.push(fillDs(astroDark, cropE, "#86c456", 1, REGION_SHIFT));
  ds.push(fillDs(immuneGreen, cropE, "#86c456", 4, REGION_SHIFT));
  ds.push(fillDs(opc, cropE, "#86c456", 2, REGION_SHIFT));
  ds.push(fillDs(opcGreen, cropE, "#86c456", 3, REGION_SHIFT));
  ds.push(fillDs(vasUpper, cropE, "#86c456", 3, REGION_SHIFT));
  for (const [p, , w] of bandsE) ds.push(bandDs(p, cropE, p === tCells || p === vasTick ? "#86c456" : "#fb4a10", 0, w, REGION_SHIFT));

  // networks
  ds.push(...network({ s: bSmall1, t: bSmall2, r: bSub, u: bCa1, v: bCa2, w: bReln, x: bSingles, a: bL6, b: bL56, c: bRight, d: bL35, e: bL6Low }, bEdges, cropB));
  ds.push(...network({ t: dTop, f: dSst, g: dPv, h: dMid, n: dNpy, x: dMeis, c: dChc, i: dUpper, j: dVip, k: dNr, l: dLamp }, dEdges, cropD));
  ds.push(...network({ s: fAstro, o: fCop, v: fVas, m: fImmune, q: fOligo }, fEdges, cropF));

  // guides
  ds.push(dashedLine(dashA), dashedLine(dashC), dashedLine(dashE));
  ds.push(dotted(redLoopB, cropB, "#ee1c2c"), dotted(greenLoopB1, cropB, "#22c01c"), dotted(blueLoopB, cropB, "#2aa6f0"), dotted(greenLoopB2, cropB, "#22c01c"));
  ds.push(dotted(redRingD, cropD, "#ee1c2c"), dotted(redRingC, cropC, "#ee1c2c"), dotted(redRingC, cropC, "#ee1c2c", 591));
  ds.push(...arrow(arrowC, cropC), ...arrow(arrowC, cropC, 591), ...arrow(arrowD, cropD));

  // legends
  simRows.forEach((y, i) => {
    const a = at(cropB, 75, y), b = at(cropB, 145, y);
    ds.push({ data: [a, b], showLine: true, fill: false, borderColor: "#111", borderWidth: simWidths[i], pointRadius: 0 });
  });
  ds.push({
    data: regionRowsB.map((y) => at(cropB, 1350, y)),
    showLine: false, pointRadius: 11, pointBorderWidth: 0,
    pointBackgroundColor: regionsB.map((r) => REGION_COLORS[r]),
  });
  ds.push({
    data: [{ x: 1133, y: 507 }, { x: 1133, y: 557 }],
    showLine: false, pointRadius: 14, pointBorderWidth: 0,
    pointBackgroundColor: [H, E],
  });
  return ds;
}

function textPlugin() {
  const sets: [L[], Crop, number][] = [
    [labelsA, cropA, 0], [labelsB, cropB, 0], [labelsC, cropC, 0], [labelsCRight, cropC, 591], [labelsD, cropD, 0],
    [labelsE, cropE, 0], [labelsF, cropF, 0],
    [labelsRegions, cropFull, 0], [labelsDLetter, cropFull, 0],
  ];
  return {
    id: "panelTexts",
    afterDatasetsDraw(chart: any) {
      const { ctx, scales } = chart;
      ctx.save();
      ctx.fillStyle = "#111";
      ctx.textAlign = "left";
      ctx.textBaseline = "alphabetic";
      const put = (t: string, p: { x: number; y: number }, size: number, bold?: boolean) => {
        ctx.font = `${bold ? "bold " : ""}${size}px "Liberation Sans", Arial, sans-serif`;
        ctx.fillText(t, scales.x.getPixelForValue(p.x), scales.y.getPixelForValue(p.y));
      };
      for (const [list, crop, dx] of sets) for (const [t, x, y, s, b] of list) put(t, at(crop, x, y, dx), s, b);
      simTicks.forEach((t, i) => put(t, at(cropB, 175, simRows[i] + 16), 19.5));
      regionNamesB.forEach((t, i) => put(t, at(cropB, 1405, regionRowsB[i] + 26), 26));
      ctx.restore();
    },
  };
}

export default function App() {
  const ref = useRef<HTMLCanvasElement>(null);
  useEffect(() => {
    document.body.style.margin = "0";
    const chart = new Chart(ref.current!, {
      type: "scatter",
      data: { datasets: buildDatasets().reverse() as any },
      options: {
        animation: false,
        responsive: false,
        events: [],
        layout: { padding: 0, autoPadding: false },
        clip: false as any,
        scales: {
          x: { type: "linear", min: 0, max: 1930, display: false },
          y: { type: "linear", min: 0, max: 1913, reverse: true, display: false },
        },
        plugins: { legend: { display: false }, tooltip: { enabled: false }, title: { display: false } },
      },
      plugins: [textPlugin() as any],
    });
    return () => chart.destroy();
  }, []);
  return <canvas ref={ref} width={1930} height={1913} style={{ display: "block", background: "#fff" }} />;
}
